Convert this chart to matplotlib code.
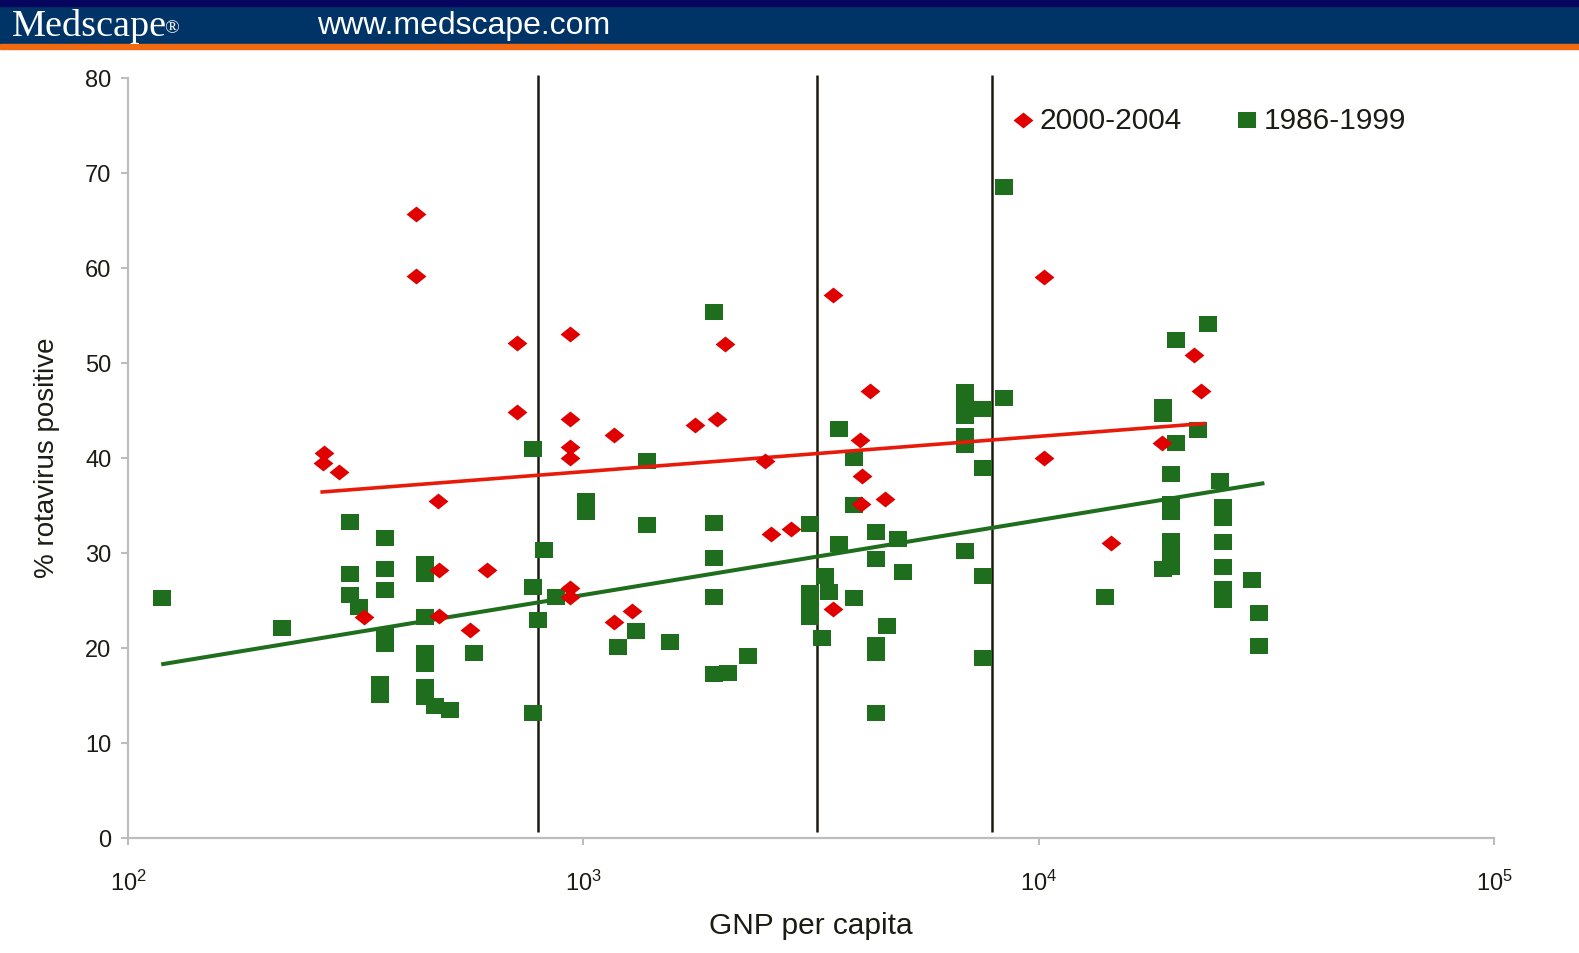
import numpy as np
import matplotlib
matplotlib.use('Agg')
import matplotlib.pyplot as plt
from matplotlib.patches import Rectangle

plt.rcParams['font.family'] = ['Liberation Sans', 'DejaVu Sans']

# 2000-2004 (red diamonds): GNP per capita, % rotavirus positive
gnp_recent = [428, 428, 715, 715, 270, 268, 291, 480, 481, 615, 330, 481, 564,
              937, 937, 937, 937, 937, 937, 1170, 1170, 1277, 1762, 1968, 2046,
              2500, 2586, 2863, 3535, 3535, 4256, 4058, 4098, 4080, 4590,
              10280, 10280, 14390, 21930, 22740, 18670]
rota_recent = [65.6, 59.1, 52.1, 44.8, 40.5, 39.4, 38.5, 35.4, 28.2, 28.2, 23.3, 23.4, 21.9,
               53.0, 44.1, 41.1, 40.0, 26.3, 25.3, 42.4, 22.7, 23.9, 43.4, 44.1, 52.0,
               39.7, 32.0, 32.5, 57.1, 24.1, 47.0, 41.9, 38.1, 35.1, 35.7,
               59.0, 40.0, 31.0, 50.8, 47.0, 41.5]

# 1986-1999 (green squares)
gnp_old = [119, 218, 308, 308, 308, 321, 367, 367, 367, 367, 367, 357, 357,
           448, 448, 448, 448, 448, 448, 448, 473, 509, 575, 776, 818, 776, 796, 776, 871,
           1936, 1381, 1016, 1016, 1381, 1936, 1936, 1936, 1936, 2080, 2301, 1549, 1303, 1193,
           3144, 3144, 3144, 3144, 3144, 3640, 3930, 3930, 3640, 3390, 3467, 3350, 3930,
           4385, 4385, 4910, 5035, 4634, 4385, 4385, 4385,
           6880, 6880, 6880, 6880, 6880, 6880, 7550, 7550, 7550, 7550,
           8410, 8410, 13960, 23550, 19990, 18750, 18750, 22370, 19990, 19480, 19480, 19480,
           19480, 19480, 18750, 19480, 25060, 25400, 25400, 25400, 25400, 25400, 25400,
           29450, 30500, 30500]
rota_old = [25.2, 22.1, 33.2, 27.8, 25.6, 24.3, 31.6, 28.3, 26.1, 21.4, 20.4, 16.2, 15.0,
            28.8, 27.8, 23.2, 19.5, 18.3, 15.9, 14.8, 13.9, 13.5, 19.5, 40.9, 30.3, 26.4, 22.9, 13.1, 25.4,
            55.3, 39.7, 35.5, 34.3, 32.9, 33.1, 29.5, 25.4, 17.2, 17.4, 19.1, 20.6, 21.8, 20.1,
            33.0, 25.8, 24.9, 23.9, 23.2, 43.0, 40.0, 35.0, 30.9, 27.6, 25.9, 21.0, 25.2,
            32.2, 29.3, 31.5, 28.0, 22.3, 20.3, 19.5, 13.1,
            46.9, 45.8, 44.4, 42.3, 41.3, 30.2, 45.1, 38.9, 27.6, 18.9,
            68.5, 46.3, 25.4, 54.1, 52.4, 45.3, 44.6, 42.9, 41.6, 38.3, 35.1, 34.3,
            31.2, 29.6, 28.3, 28.5, 37.6, 34.8, 33.7, 31.1, 28.5, 26.2, 25.0,
            27.1, 23.7, 20.2]

# trend lines (end points)
trend_recent_x = [267, 23070]
trend_recent_y = [36.4, 43.6]
trend_old_x = [119.5, 31000]
trend_old_y = [18.3, 37.3]

# income group cut-offs
cutoffs = [795, 3255, 7900]

red = '#e00000'
green = '#1e6e1e'
txt = '#1c1c14'
diamond = [(-1, 0), (0, 0.8), (1, 0), (0, -0.8), (-1, 0)]
square = [(-1, -0.87), (1, -0.87), (1, 0.87), (-1, 0.87), (-1, -0.87)]

fig = plt.figure(figsize=(15.79, 9.54), dpi=100)

# header bar
fig.patches.append(Rectangle((0, 1 - 46 / 954), 1, 46 / 954, transform=fig.transFigure,
                             color='#003366', zorder=0))
fig.patches.append(Rectangle((0, 1 - 7 / 954), 1, 7 / 954, transform=fig.transFigure,
                             color='#06065e', zorder=1))
fig.patches.append(Rectangle((0, 1 - 50 / 954), 1, 5 / 954, transform=fig.transFigure,
                             color='#f26a10', zorder=1))
fig.text(12 / 1579, 1 - 26 / 954, 'Medscape', color='white', fontsize=27.5,
         family=['Liberation Serif', 'DejaVu Serif'], ha='left', va='center')
fig.text(164 / 1579, 1 - 29 / 954, '\u00ae', color='white', fontsize=14,
         family=['Liberation Serif', 'DejaVu Serif'], ha='left', va='center')
fig.text(317 / 1579, 1 - 26 / 954, 'www.medscape.com', color='white', fontsize=23,
         ha='left', va='center')

ax = fig.add_axes([128 / 1579, 1 - 839 / 954, 1366 / 1579, 760.5 / 954])

ax.vlines(cutoffs, 0.6, 80.3, color='#1a1a10', linewidth=1.8, zorder=1, clip_on=False)
ax.plot(trend_recent_x, trend_recent_y, color='#e81a0a', linewidth=2.6, zorder=3)
ax.plot(trend_old_x, trend_old_y, color='#1e6e1e', linewidth=2.9, zorder=3)
ax.scatter(gnp_recent, rota_recent, marker=diamond, s=205, color=red, linewidths=0,
           zorder=4, label='2000-2004')
ax.scatter(gnp_old, rota_old, marker=square, s=170, color=green, linewidths=0,
           zorder=2, label='1986-1999')

ax.set_xscale('log')
ax.set_xlim(100, 100000)
ax.set_ylim(0, 80)
ax.set_yticks(np.arange(0, 81, 10))
ax.minorticks_off()
ax.set_xticks([100, 1000, 10000, 100000])

for s in ['top', 'right']:
    ax.spines[s].set_visible(False)
for s in ['left', 'bottom']:
    ax.spines[s].set_color('#bdbdbd')
    ax.spines[s].set_linewidth(1.6)
ax.tick_params(axis='y', colors='#bdbdbd', labelcolor=txt, labelsize=17, length=5,
               width=1.5, pad=7)
ax.tick_params(axis='x', colors='#bdbdbd', labelcolor=txt, labelsize=17, length=5,
               width=1.5, pad=18)

fig.text(47 / 1579, 1 - 458 / 954, '% rotavirus positive', rotation=90, fontsize=20,
         color=txt, ha='center', va='center')
fig.text(811 / 1579, 1 - 926 / 954, 'GNP per capita', fontsize=21.5, color=txt,
         ha='center', va='center')

leg = ax.legend(loc='upper left', bbox_to_anchor=(1014 / 1579, 1 - 107 / 954),
                bbox_transform=fig.transFigure, ncol=2, frameon=False, fontsize=21.5,
                handlelength=0.6, handletextpad=0.25, columnspacing=1.9,
                borderpad=0, borderaxespad=0, scatterpoints=1)
for t in leg.get_texts():
    t.set_color(txt)

fig.savefig('out.png', dpi=100)
